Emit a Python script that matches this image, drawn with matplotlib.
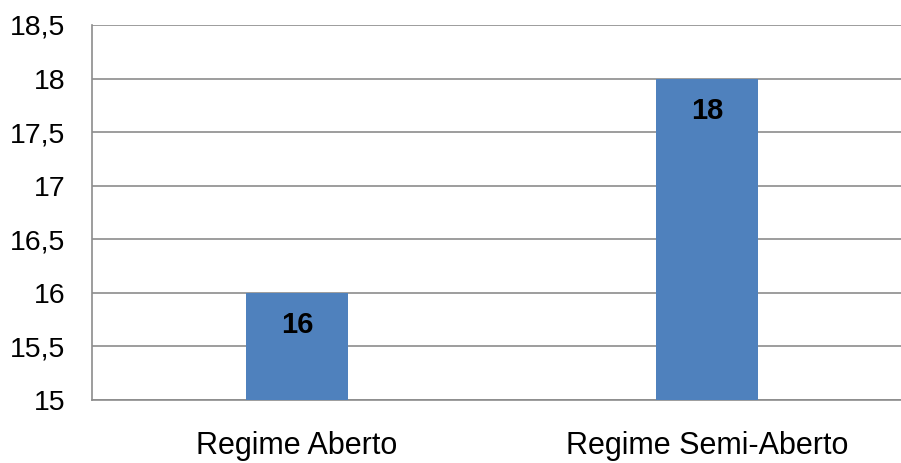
import matplotlib.pyplot as plt
from matplotlib.ticker import FuncFormatter

categories = ["Regime Aberto", "Regime Semi-Aberto"]
values = [16, 18]
yticks = [15, 15.5, 16, 16.5, 17, 17.5, 18, 18.5]

plt.rcParams['font.family'] = ['Liberation Sans', 'DejaVu Sans']

fig = plt.figure(figsize=(9.01, 4.63), dpi=100)
# plot area runs a little past the right edge, as in the original
ax = fig.add_axes([92 / 901, 1 - 400 / 463, 820 / 901, 375 / 463])

x = list(range(len(categories)))
bars = ax.bar(x, [v - 15 for v in values], bottom=15, width=0.25, color="#4F81BD", zorder=3)

ax.set_xlim(-0.5, 1.5)
ax.set_ylim(15, 18.5)
ax.set_yticks(yticks)
ax.yaxis.set_major_formatter(FuncFormatter(lambda v, p: f"{v:g}".replace(".", ",")))
ax.set_xticks(x)
ax.set_xticklabels(categories)

ax.grid(axis="y", color="#8C8C8C", linewidth=1.2, zorder=0)
for s in ["top", "right"]:
    ax.spines[s].set_visible(False)
for s in ["left", "bottom"]:
    ax.spines[s].set_color("#8C8C8C")
    ax.spines[s].set_linewidth(1.2)
ax.tick_params(axis="y", length=0, labelsize=20.5, pad=19)
ax.tick_params(axis="x", length=0, labelsize=22, pad=22)

for xi, v in zip(x, values):
    ax.annotate(str(v), (xi, v), xytext=(0, -32), textcoords="offset pixels",
                ha="center", va="center", fontsize=21, fontweight="bold", zorder=4)

fig.savefig("out.png", dpi=100)
